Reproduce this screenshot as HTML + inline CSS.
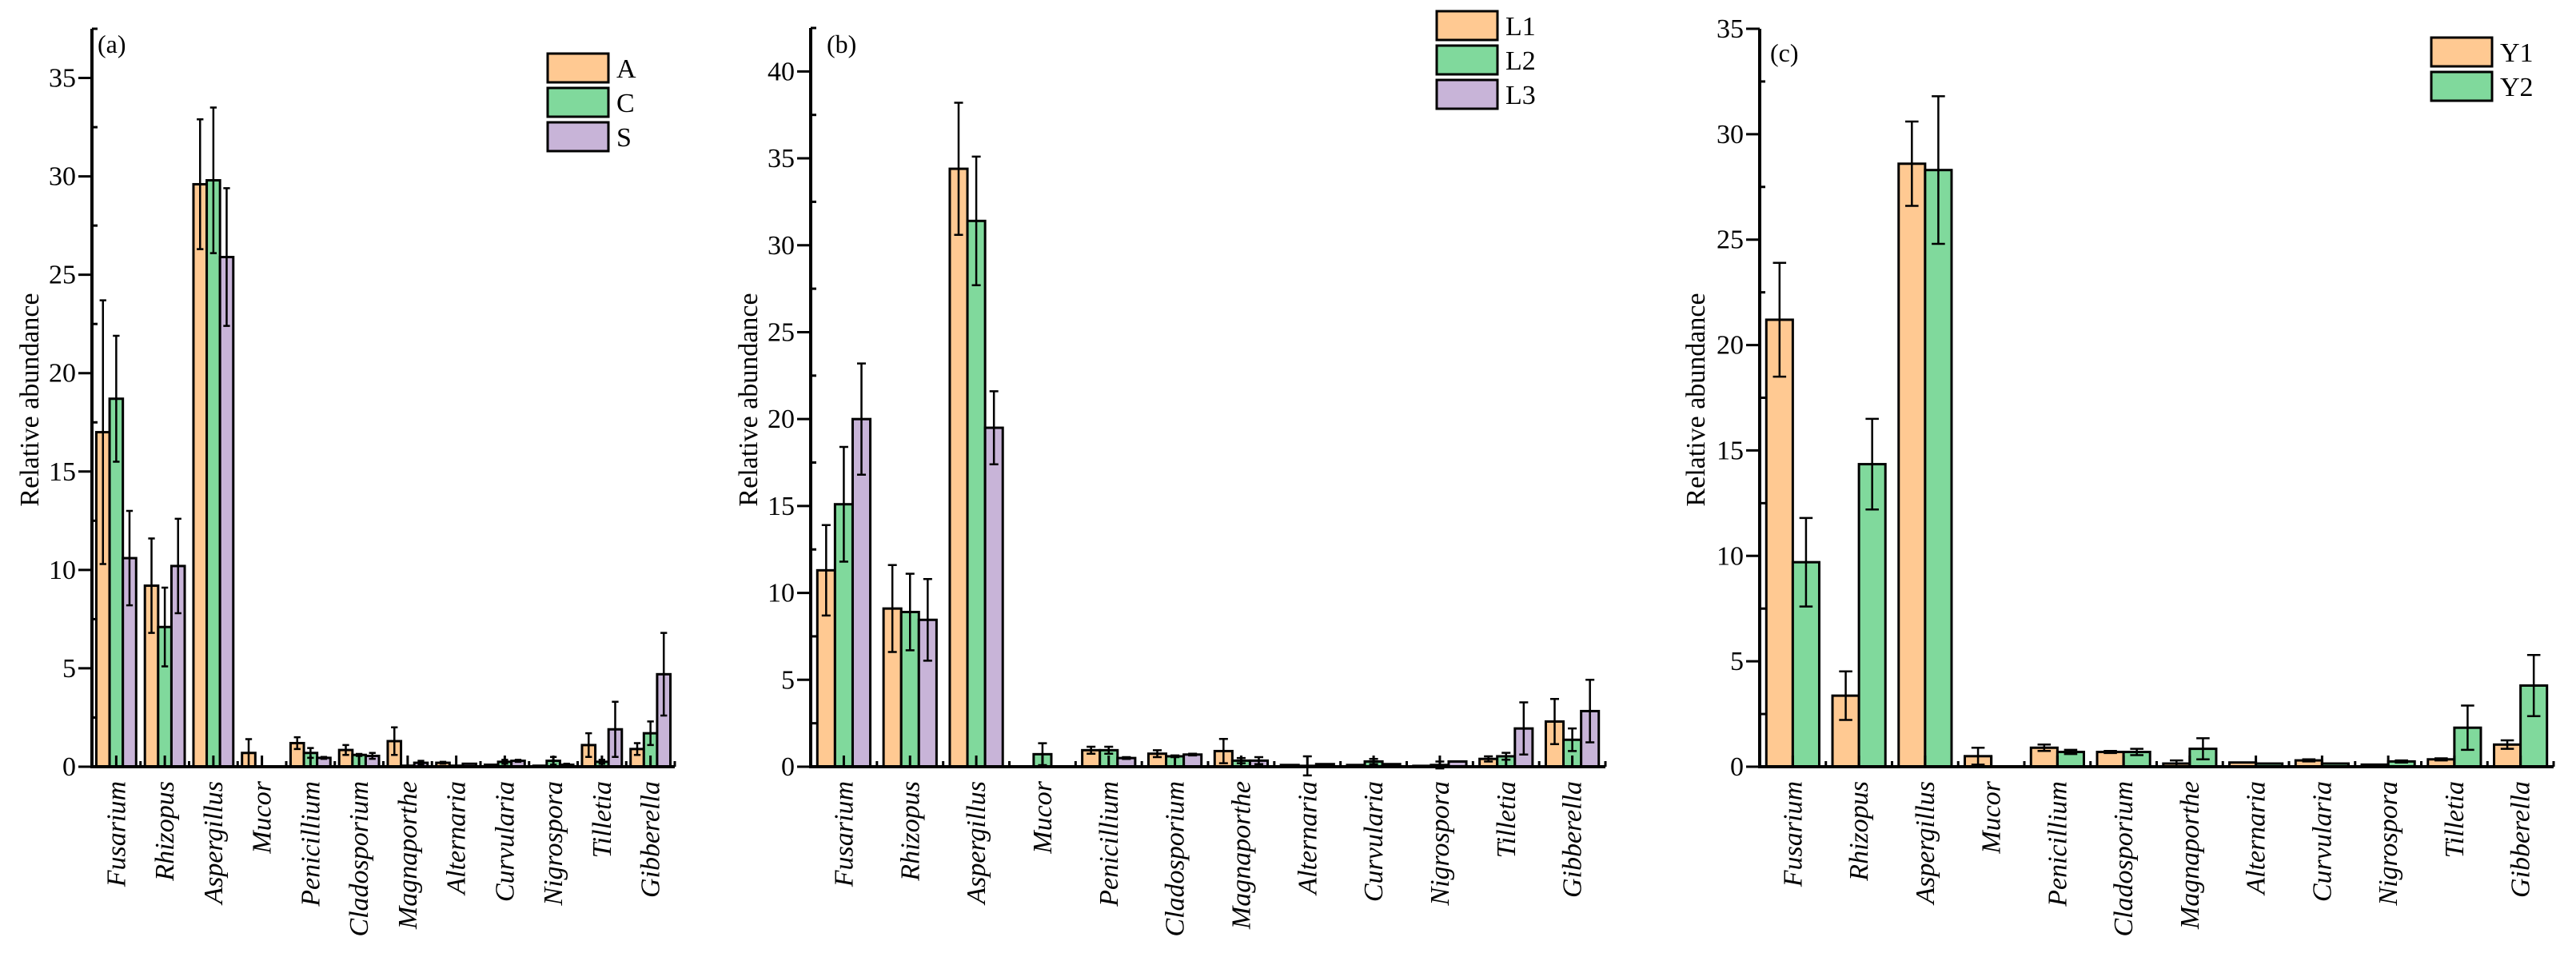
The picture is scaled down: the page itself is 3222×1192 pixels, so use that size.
<!DOCTYPE html>
<html><head><meta charset="utf-8"><style>
html,body{margin:0;padding:0;background:#fff;}
svg{display:block;font-family:"Liberation Serif","Times New Roman",serif;}
</style></head><body>
<svg id="fig" width="3222" height="1192" viewBox="0 0 3222 1192" xmlns="http://www.w3.org/2000/svg"></svg>
<script>
const categories = ["Fusarium","Rhizopus","Aspergillus","Mucor","Penicillium","Cladosporium","Magnaporthe","Alternaria","Curvularia","Nigrospora","Tilletia","Gibberella"];
const seriesColors = ["#FFC992","#80D99C","#C8B4D8"];
// Panel (a)
const aNames = ["A","C","S"];
const aA = [17.0,9.2,29.6,0.7,1.2,0.85,1.3,0.2,0.1,0.05,1.1,0.9];
const aC = [18.7,7.1,29.8,0.0,0.7,0.6,0.05,0.05,0.25,0.3,0.25,1.7];
const aS = [10.6,10.2,25.9,0.02,0.45,0.55,0.2,0.15,0.3,0.1,1.9,4.7];
const aAe = [6.7,2.4,3.3,0.7,0.3,0.25,0.7,0.05,0,0,0.6,0.3];
const aCe = [3.2,2.0,3.7,0,0.25,0.05,0,0,0.1,0.2,0.1,0.6];
const aSe = [2.4,2.4,3.5,0,0.05,0.15,0.1,0,0.05,0.05,1.4,2.1];
const aTicks = [0,5,10,15,20,25,30,35];
// Panel (b)
const bNames = ["L1","L2","L3"];
const bL1 = [11.3,9.1,34.4,0.0,0.95,0.75,0.9,0.1,0.1,0.05,0.45,2.6];
const bL2 = [15.1,8.9,31.4,0.72,0.95,0.6,0.35,0.05,0.3,0.1,0.6,1.55];
const bL3 = [20.0,8.45,19.5,0.02,0.5,0.7,0.35,0.15,0.15,0.3,2.2,3.2];
const bL1e = [2.6,2.5,3.8,0,0.2,0.2,0.7,0,0,0,0.15,1.3];
const bL2e = [3.3,2.2,3.7,0.63,0.2,0.05,0.15,0.55,0.15,0.2,0.2,0.65];
const bL3e = [3.2,2.35,2.1,0,0.05,0.05,0.2,0,0,0,1.5,1.8];
const bTicks = [0,5,10,15,20,25,30,35,40];
// Panel (c)
const cNames = ["Y1","Y2"];
const cY1 = [21.2,3.37,28.6,0.5,0.9,0.7,0.15,0.2,0.3,0.1,0.35,1.05];
const cY2 = [9.7,14.35,28.3,0.0,0.7,0.7,0.85,0.15,0.15,0.25,1.85,3.85];
const cY1e = [2.7,1.15,2.0,0.4,0.15,0.05,0.15,0,0.05,0,0.05,0.2];
const cY2e = [2.1,2.15,3.5,0,0.1,0.15,0.5,0,0,0.05,1.05,1.45];
const cTicks = [0,5,10,15,20,25,30,35];

const NS="http://www.w3.org/2000/svg";
const svg=document.getElementById('fig');
function mk(tag,attrs,parent){const e=document.createElementNS(NS,tag);for(const k in attrs)e.setAttribute(k,attrs[k]);(parent||svg).appendChild(e);return e;}

function panel(cfg){
  const g=mk('g',{});
  
  
  const x0=cfg.x0,x1=cfg.x1,yb=959,yt=cfg.yt,ymax=cfg.ymax;
  const yS=v=>yb-(v/ymax)*(yb-yt);
  const n=categories.length,step=(x1-x0)/n;
  const xC=i=>x0+step*(i+0.5);
  const ns=cfg.series.length,gw=step*cfg.gfrac,bw=gw/ns;
  // bars
  cfg.series.forEach((vals,s)=>{
    vals.forEach((v,i)=>{
      const bx=xC(i)-gw/2+s*bw;
      const r=mk('rect',{x:bx,y:yS(v),width:bw,height:Math.max(0,yb-yS(v)),fill:seriesColors[s],stroke:'#000','stroke-width':3},g);
      
      
      const e=cfg.errs[s][i];
      if(e>0){
        const cx=bx+bw/2,cw=bw*0.5;
        const eb=mk('path',{d:`M${cx},${yS(v-e)}V${yS(v+e)}M${cx-cw/2},${yS(v+e)}H${cx+cw/2}M${cx-cw/2},${yS(v-e)}H${cx+cw/2}`,stroke:'#000','stroke-width':2.5,fill:'none'},g);
        
        
      }
    });
  });
  // axes
  const ax=mk('path',{d:`M${x0},${yt}V${yb}H${x1}`,stroke:'#000','stroke-width':4,fill:'none'},g);
  
  
  // y ticks
  cfg.ticks.forEach(t=>{
    mk('line',{x1:x0-17,x2:x0,y1:yS(t),y2:yS(t),stroke:'#000','stroke-width':3},g);
    const tl=mk('text',{x:x0-20,y:yS(t)+11,'text-anchor':'end','font-size':34},g);
    tl.textContent=t;
    
    
    if(t+2.5<=ymax+0.01) mk('line',{x1:x0,x2:x0+7,y1:yS(t+2.5),y2:yS(t+2.5),stroke:'#000','stroke-width':3},g);
  });
  // x ticks
  for(let i=0;i<n;i++){
    mk('line',{x1:xC(i),x2:xC(i),y1:yb,y2:yb-14,stroke:'#000','stroke-width':3},g);
    mk('line',{x1:x0+step*(i+1),x2:x0+step*(i+1),y1:yb,y2:yb-7,stroke:'#000','stroke-width':3},g);
    const cl=mk('text',{transform:`translate(${xC(i)+11},${yb+18}) rotate(-90)`,'text-anchor':'end','font-size':34,'font-style':'italic'},g);
    cl.textContent=categories[i];
    
    
  }
  // y title
  const yt2=mk('text',{transform:`translate(${cfg.titleX},500) rotate(-90)`,'text-anchor':'middle','font-size':34},g);
  yt2.textContent='Relative abundance';
  
  
  // panel label
  const pl=mk('text',{x:cfg.labX,y:cfg.labY,'font-size':32},g);
  pl.textContent='('+cfg.id+')';
  
  
  // legend
  cfg.names.forEach((nm,s)=>{
    const ly=cfg.legY+s*cfg.legStep;
    const lr=mk('rect',{x:cfg.legX,y:ly,width:76,height:36,fill:seriesColors[s],stroke:'#000','stroke-width':3},g);
    
    
    const lt=mk('text',{x:cfg.legX+86,y:ly+30,'font-size':34},g);
    lt.textContent=nm;
    
    
  });
}
panel({id:'a',x0:115,x1:844,yt:36,ymax:37.5,gfrac:0.82,series:[aA,aC,aS],errs:[aAe,aCe,aSe],names:aNames,ticks:aTicks,titleX:48,labX:122,labY:66,legX:685,legY:67,legStep:43});
panel({id:'b',x0:1014,x1:2008,yt:35,ymax:42.5,gfrac:0.8,series:[bL1,bL2,bL3],errs:[bL1e,bL2e,bL3e],names:bNames,ticks:bTicks,titleX:947,labX:1034,labY:66,legX:1797,legY:14,legStep:43});
panel({id:'c',x0:2201,x1:3194,yt:36,ymax:35,gfrac:0.8,series:[cY1,cY2],errs:[cY1e,cY2e],names:cNames,ticks:cTicks,titleX:2132,labX:2214,labY:77,legX:3041,legY:47,legStep:43});
</script>
</body></html>
